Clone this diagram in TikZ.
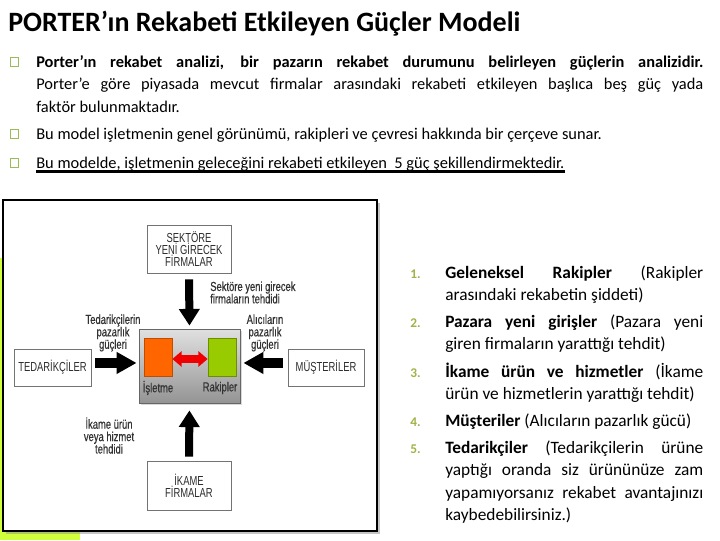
\documentclass[tikz,border=0pt]{standalone}
\usepackage{fontspec}
\setmainfont{Carlito}
\newfontfamily\dgf[FakeStretch=0.72]{Liberation Sans}
\newfontfamily\dgfb[FakeStretch=0.72,FakeBold=0.5]{Liberation Sans}
\usetikzlibrary{arrows.meta,shadows}
\definecolor{olivec}{RGB}{155,187,89}
\definecolor{numc}{RGB}{160,178,72}
\definecolor{ygreen}{RGB}{208,255,60}
\definecolor{dtext}{RGB}{45,45,45}
\definecolor{orng}{RGB}{255,102,0}
\definecolor{grnc}{RGB}{153,204,0}
\definecolor{redc}{RGB}{240,0,0}
\begin{document}
\begin{tikzpicture}[x=0.75pt,y=-0.75pt,
  bulletsq/.style={draw=olivec, line width=0.6pt, minimum size=6.5pt, inner sep=0pt},
  body/.style={font=\fontsize{12.3}{16.9}\selectfont, inner sep=0pt, anchor=base west},
  para/.style={font=\fontsize{12.3}{16.9}\selectfont, inner sep=0pt, anchor=north west, text width=500.25pt, align=justify},
  numlab/.style={font=\fontsize{10}{12}\selectfont\bfseries, text=numc, inner sep=0pt, anchor=base west},
  itempar/.style={font=\fontsize{13}{16.9}\selectfont, inner sep=0pt, anchor=north west, text width=193.5pt, align=justify},
  dbox/.style={draw=black!55, fill=white, line width=0.5pt, inner sep=0pt, font=\dgf\fontsize{9.8}{9}\selectfont, text=dtext, align=center},
  dlab/.style={font=\dgfb\fontsize{9.8}{9.3}\selectfont, text=black!80, inner sep=0pt},
  fatv/.style={line width=6pt, -{Triangle[width=15pt,length=12.5pt]}},
  fath/.style={line width=7pt, -{Triangle[width=15.5pt,length=15pt]}},
  redarr/.style={draw=redc, line width=6pt, {Triangle[width=11.5pt,length=7pt]}-{Triangle[width=11.5pt,length=7pt]}}
]
\useasboundingbox (0,0) rectangle (720,540);
\fill[white] (0,0) rectangle (720,540);

% title
\node[font=\fontsize{21}{25}\selectfont\bfseries, inner sep=0pt, anchor=base west] (title) at (8,31) {PORTER’ın Rekabeti Etkileyen Güçler Modeli};

% bullets
\node[bulletsq] (b1) at (14.5,62) {};
\node[bulletsq] (b2) at (14.5,134) {};
\node[bulletsq] (b3) at (14.5,163) {};

\node[para] (p1) at (36,51) {\rule{0pt}{12pt}{\bfseries Porter’ın rekabet analizi, bir pazarın rekabet durumunu belirleyen güçlerin analizidir.}\linebreak Porter’e göre piyasada mevcut firmalar arasındaki rekabeti etkileyen başlıca beş güç yada\linebreak faktör bulunmaktadır.};
\node[body] (p2) at (36,139) {Bu model işletmenin genel görünümü, rakipleri ve çevresi hakkında bir çerçeve sunar.};
\node[body] (p3) at (36,168) {Bu modelde, işletmenin geleceğini rekabeti etkileyen \ 5 güç şekillendirmektedir.};
\draw[line width=2.3pt] ([yshift=-2.6pt]p3.base west) -- ([yshift=-2.6pt]p3.base east);

% right list
\node[numlab] (n1) at (410,278) {1.};
\node[numlab] (n2) at (410,327) {2.};
\node[numlab] (n3) at (410,377) {3.};
\node[numlab] (n4) at (410,426) {4.};
\node[numlab] (n5) at (410,453) {5.};
\node[itempar] (i1) at (445,262) {\rule{0pt}{12pt}{\bfseries Geleneksel Rakipler} (Rakipler\linebreak arasındaki rekabetin şiddeti)};
\node[itempar] (i2) at (445,311) {\rule{0pt}{12pt}{\bfseries Pazara yeni girişler} (Pazara yeni\linebreak giren firmaların yarattığı tehdit)};
\node[itempar] (i3) at (445,361) {\rule{0pt}{12pt}{\bfseries İkame ürün ve hizmetler} (İkame\linebreak ürün ve hizmetlerin yarattığı tehdit)};
\node[itempar] (i4) at (445,410) {\rule{0pt}{12pt}{\bfseries Müşteriler} (Alıcıların pazarlık gücü)};
\node[itempar] (i5) at (445,437) {\rule{0pt}{12pt}{\bfseries Tedarikçiler} (Tedarikçilerin ürüne\linebreak yaptığı oranda siz ürününüze zam\linebreak yapamıyorsanız rekabet avantajınızı\linebreak kaybedebilirsiniz.)};

% diagram background and frame
\fill[ygreen] (0,258) rectangle (80,540);
\path[draw=black, line width=2.2pt, fill=white, drop shadow={shadow xshift=2pt, shadow yshift=-2pt, fill=black!45}] (3,200) rectangle (377,531);

% boxes
\node[dbox, minimum width=63pt, minimum height=36pt] (sek) at (189,249) {SEKTÖRE\\YENİ GİRECEK\\FİRMALAR};
\node[dbox, minimum width=57.75pt, minimum height=27.75pt] (ted) at (52.5,367.5) {TEDARİKÇİLER};
\node[dbox, minimum width=57pt, minimum height=27.75pt] (mus) at (326,367.5) {MÜŞTERİLER};
\node[dbox, minimum width=63pt, minimum height=36.75pt] (ika) at (189,485.5) {İKAME\\FİRMALAR};

\node[draw=black!60, line width=0.6pt, top color=black!12, bottom color=black!42, minimum width=75.75pt, minimum height=55.5pt, inner sep=0pt, drop shadow={shadow xshift=1.5pt, shadow yshift=-1.5pt, fill=black!30}] (cbox) at (189.5,366) {};
\node[fill=orng, draw=orng!75!black, line width=0.6pt, minimum width=21pt, minimum height=28.5pt, inner sep=0pt] (org) at (158,357) {};
\node[fill=grnc, draw=grnc!70!black, line width=0.6pt, minimum width=21pt, minimum height=28.5pt, inner sep=0pt] (grn) at (222,357) {};
\draw[redarr] ([yshift=-1.5pt]org.east) -- ([yshift=-1.5pt]grn.west);
\node[dlab] (isl) at (158,388) {İşletme};
\node[dlab] (rak) at (220,388) {Rakipler};

% arrows
\draw[fatv, shorten <=4.5pt, shorten >=2.25pt] (sek.south) -- (cbox.north);
\draw[fatv, shorten <=3pt, shorten >=5.25pt] (ika.north) -- (cbox.south);
\draw[fath, shorten <=3pt, shorten >=1.5pt] ([yshift=3.4pt]ted.east) -- ([yshift=3.4pt]ted.east -| cbox.west);
\draw[fath, shorten <=3.75pt, shorten >=2.25pt] ([yshift=3.4pt]mus.west) -- ([yshift=3.4pt]mus.west -| cbox.east);

% labels
\node[dlab, align=left, anchor=west] (l1) at (210,292.5) {Sektöre yeni girecek\\firmaların tehdidi};
\node[dlab, align=center] (l2) at (113,333) {Tedarikçilerin\\pazarlık\\güçleri};
\node[dlab, align=center] (l3) at (265,333) {Alıcıların\\pazarlık\\güçleri};
\node[dlab, align=center] (l4) at (109,435.5) {İkame ürün\\veya hizmet\\tehdidi};
\end{tikzpicture}
\end{document}
